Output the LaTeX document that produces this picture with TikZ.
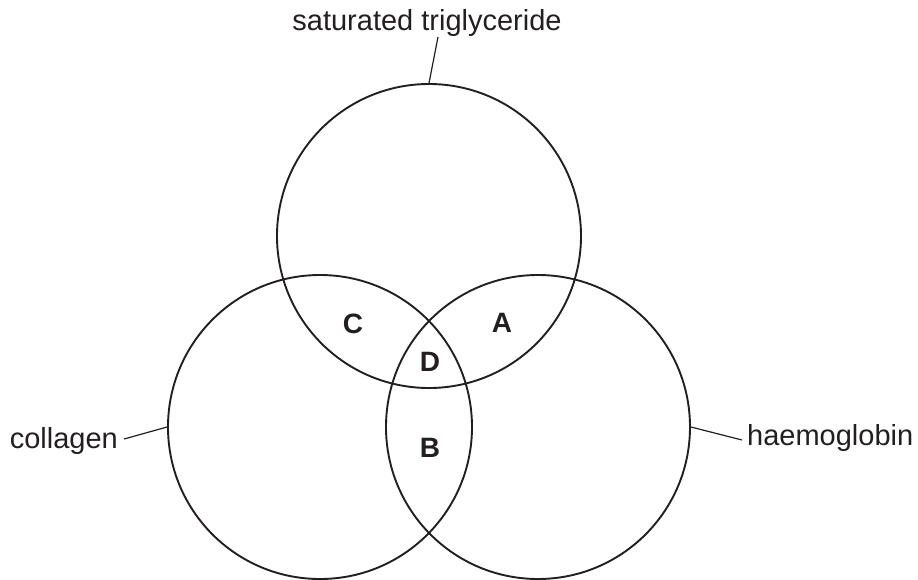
\documentclass[tikz,border=0pt]{standalone}
\usepackage{fontspec}
\setmainfont{Liberation Sans}
\definecolor{ink}{HTML}{231F20}
\begin{document}
\begin{tikzpicture}[x=1pt,y=-1pt,
  setcircle/.style={draw=ink,line width=1.9pt,circle,minimum size=304pt,inner sep=0pt},
  lbl/.style={text=ink,font=\fontsize{29}{34}\selectfont,inner sep=0pt},
  region/.style={text=ink,font=\fontsize{28}{32}\selectfont\bfseries,inner sep=0pt},
  leader/.style={draw=ink,line width=1.2pt}]
\useasboundingbox (0,0) rectangle (918,579);
\node[setcircle] (T) at (429,236) {};
\node[setcircle] (L) at (320,427) {};
\node[setcircle] (R) at (538,427) {};
\node[lbl,anchor=base] (tl) at (427,30) {saturated triglyceride};
\node[lbl,anchor=base east] (cl) at (118,448) {collagen};
\node[lbl,anchor=base west] (hl) at (747,445) {haemoglobin};
\coordinate (tle) at (438,37);
\coordinate (cle) at (124,439);
\coordinate (hle) at (742,440);
\draw[leader] (T.north) -- (tle);
\draw[leader] (L.west) -- (cle);
\draw[leader] (R.east) -- (hle);
\node[region] (A) at (502,323) {A};
\node[region] (C) at (353,324) {C};
\node[region] (D) at (430,362) {D};
\node[region] (B) at (430,448) {B};
\end{tikzpicture}
\end{document}
